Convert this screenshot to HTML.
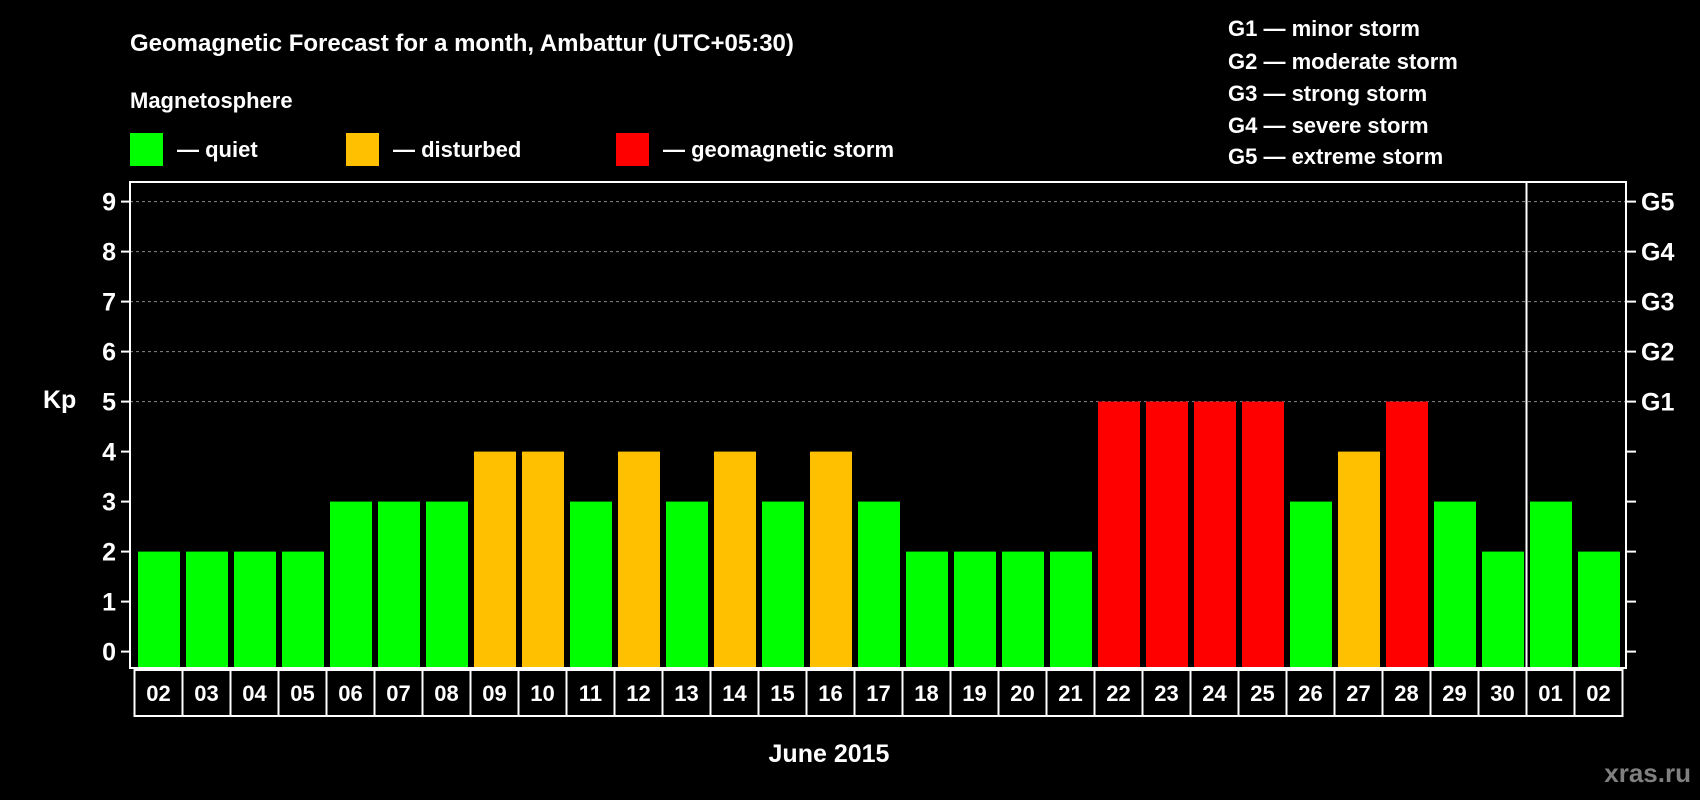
<!DOCTYPE html>
<html><head><meta charset="utf-8"><style>
body{margin:0;background:#000;width:1700px;height:800px;overflow:hidden}
svg{display:block}
text{font-family:"Liberation Sans",Arial,sans-serif;font-weight:bold;fill:#fff}
</style></head><body>
<svg id="c" width="1700" height="800">
<text x="130" y="51" font-size="24">Geomagnetic Forecast for a month, Ambattur (UTC+05:30)</text>
<text x="130" y="108" font-size="22">Magnetosphere</text>
<rect x="130" y="133" width="33" height="33" fill="#00ff00"/>
<text x="177" y="157" font-size="22">— quiet</text>
<rect x="346" y="133" width="33" height="33" fill="#ffc000"/>
<text x="393" y="157" font-size="22">— disturbed</text>
<rect x="616" y="133" width="33" height="33" fill="#ff0000"/>
<text x="663" y="157" font-size="22">— geomagnetic storm</text>
<g font-size="22">
<text x="1228" y="36">G1 — minor storm</text>
<text x="1228" y="69">G2 — moderate storm</text>
<text x="1228" y="101">G3 — strong storm</text>
<text x="1228" y="133">G4 — severe storm</text>
<text x="1228" y="164">G5 — extreme storm</text>
</g>
<text x="43" y="408" font-size="25">Kp</text>
<text x="829" y="762" font-size="25" text-anchor="middle">June 2015</text>
<text x="1691" y="782" font-size="26" text-anchor="end" style="fill:#808080">xras.ru</text>
<g id="plot"></g>
</svg>
<script>
const days=["02","03","04","05","06","07","08","09","10","11","12","13","14","15","16","17","18","19","20","21","22","23","24","25","26","27","28","29","30","01","02"];
const kp=[2,2,2,2,3,3,3,4,4,3,4,3,4,3,4,3,2,2,2,2,5,5,5,5,3,4,5,3,2,3,2];
const yTicks=[0,1,2,3,4,5,6,7,8,9];
const gLabels=["G1","G2","G3","G4","G5"];
const gLevels=[5,6,7,8,9];
const NS="http://www.w3.org/2000/svg";
const g=document.getElementById('plot');
const L=130,R=1626,T=182,B=668,X0=134.5,P=48;
const y=v=>651.6-50*v;
const x=i=>X0+i*P;
function mk(t,a,txt){const e=document.createElementNS(NS,t);for(const k in a)e.setAttribute(k,a[k]);if(txt!==undefined)e.textContent=txt;g.appendChild(e);return e;}
gLevels.forEach((v,i)=>{
 let e=mk('line',{x1:L,x2:R,y1:y(v),y2:y(v),stroke:'#888','stroke-dasharray':'3,3','stroke-width':1});
 
 
 let t=mk('text',{x:1641,y:y(v)+9,'font-size':25},gLabels[i]);
 
 
});
kp.forEach((v,i)=>{
 const col=v>=5?'#ff0000':(v>=4?'#ffc000':'#00ff00');
 let r=mk('rect',{x:x(i)+3.5,y:y(v),width:42,height:B-y(v),fill:col});
 
 
 let b=mk('rect',{x:x(i),y:670,width:P,height:46,fill:'none',stroke:'#fff','stroke-width':2});
 
 
 let t=mk('text',{x:x(i)+P/2,y:701,'font-size':22,'text-anchor':'middle'},days[i]);
 
 
});
yTicks.forEach(v=>{
 let a=mk('line',{x1:L-9,x2:L,y1:y(v),y2:y(v),stroke:'#fff','stroke-width':2});
 
 
 let b=mk('line',{x1:R,x2:R+10,y1:y(v),y2:y(v),stroke:'#fff','stroke-width':2});
 
 
 let t=mk('text',{x:116,y:y(v)+9,'font-size':25,'text-anchor':'end'},String(v));
 
 
});
let s=mk('line',{x1:x(29),x2:x(29),y1:T,y2:B,stroke:'#fff','stroke-width':2});


let f=mk('rect',{x:L,y:T,width:R-L,height:B-T,fill:'none',stroke:'#fff','stroke-width':2});


</script>
</body></html>
